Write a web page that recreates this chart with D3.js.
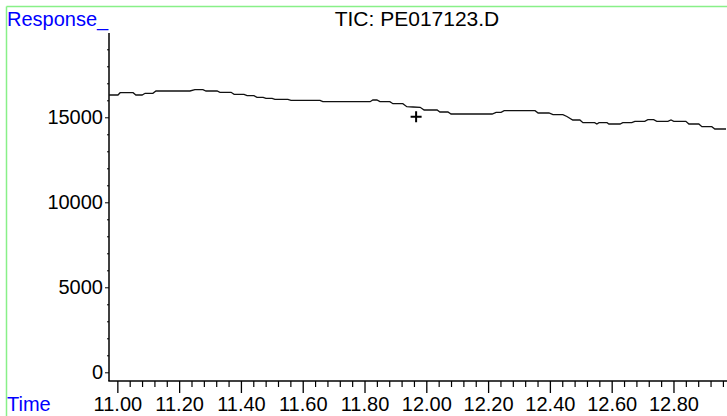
<!DOCTYPE html>
<html>
<head>
<meta charset="utf-8">
<script src="https://cdn.jsdelivr.net/npm/d3@7"></script>
<style>
html,body{margin:0;padding:0;background:#fff;}
svg{display:block;font-family:"Liberation Sans",Arial,sans-serif;}
</style>
</head>
<body>
<svg id="chart" width="727" height="416"></svg>
<script>
// ---- data ----
const titleText = "TIC: PE017123.D";
const yLabel = "Response_";
const xLabel = "Time";
const times = [10.973,11.002,11.009,11.051,11.060,11.080,11.090,11.115,11.125,11.235,11.251,11.277,11.287,11.323,11.332,11.368,11.378,11.410,11.420,11.442,11.452,11.472,11.481,11.501,11.510,11.552,11.562,11.656,11.665,11.818,11.827,11.840,11.850,11.882,11.892,11.924,11.937,11.957,11.980,11.993,12.035,12.044,12.070,12.080,12.213,12.226,12.242,12.252,12.352,12.362,12.397,12.410,12.442,12.455,12.474,12.497,12.507,12.545,12.552,12.559,12.585,12.591,12.627,12.636,12.665,12.675,12.707,12.717,12.736,12.746,12.782,12.792,12.801,12.840,12.850,12.882,12.892,12.924,12.934,12.970];
const responses = [16312,16312,16447,16447,16312,16312,16412,16412,16547,16547,16624,16624,16547,16547,16471,16471,16353,16353,16271,16271,16176,16176,16118,16118,16059,16059,16000,16000,15918,15918,16018,16018,15918,15918,15800,15800,15624,15606,15588,15429,15429,15312,15312,15194,15194,15294,15294,15388,15388,15253,15253,15153,15153,15047,14841,14841,14682,14682,14606,14682,14682,14606,14606,14682,14682,14765,14765,14859,14859,14765,14765,14841,14765,14765,14606,14606,14447,14447,14312,14312];
const markerTime = [11.967];
const markerResponse = [15035];
const yTickValues = [0,5000,10000,15000];
const yMinorValues = d3.range(0,20000,1000);
const xTickValues = [11.0,11.2,11.4,11.6,11.8,12.0,12.2,12.4,12.6,12.8];
const xMinorValues = d3.range(0,50).map(i => +(11 + i*0.04).toFixed(2));

// ---- layout ----
const svg = d3.select("#chart");
const x = d3.scaleLinear().domain([10.973, 12.970]).range([109, 726]);
const y = d3.scaleLinear().domain([0, 20000]).range([372.3, 32.3]);
const axisY0 = 381;

// green frame
svg.append("line").attr("x1",6.5).attr("x2",6.5).attr("y1",6.5).attr("y2",416)
  .attr("stroke","#88f088").attr("stroke-width",1.5);
svg.append("line").attr("x1",6.5).attr("x2",727).attr("y1",6.5).attr("y2",6.5)
  .attr("stroke","#88f088").attr("stroke-width",1.5);

// Y axis
const yAxis = d3.axisLeft(y).tickValues(yTickValues).tickSize(4).tickPadding(2)
  .tickFormat(d3.format("d"));
const gy = svg.append("g").attr("transform","translate(109,0)").call(yAxis);
gy.select(".domain").remove();
gy.selectAll(".tick line").attr("stroke","#000");
gy.selectAll(".tick text").attr("font-size",20).attr("fill","#000")
  .attr("font-family","'Liberation Sans',Arial,sans-serif");
const yMinor = d3.axisLeft(y).tickValues(yMinorValues.filter(v => !yTickValues.includes(v)))
  .tickSize(2).tickFormat("");
const gym = svg.append("g").attr("transform","translate(109,0)").call(yMinor);
gym.select(".domain").remove();
svg.append("line").attr("x1",109).attr("x2",109).attr("y1",33).attr("y2",axisY0)
  .attr("stroke","#000").attr("stroke-width",1.5);

// X axis
const xAxis = d3.axisBottom(x).tickValues(xTickValues).tickSize(12).tickPadding(4)
  .tickFormat(d3.format(".2f"));
const gx = svg.append("g").attr("transform",`translate(0,${axisY0})`).call(xAxis);
gx.select(".domain").remove();
gx.selectAll(".tick line").attr("stroke","#000").attr("stroke-width",1.3);
gx.selectAll(".tick text").attr("font-size",20).attr("fill","#000")
  .attr("font-family","'Liberation Sans',Arial,sans-serif");
const xMinor = d3.axisBottom(x).tickValues(xMinorValues.filter(v => !xTickValues.some(t => Math.abs(t-v)<1e-6)))
  .tickSize(6).tickFormat("");
const gxm = svg.append("g").attr("transform",`translate(0,${axisY0})`).call(xMinor);
gxm.select(".domain").remove();
gxm.selectAll(".tick line").attr("stroke","#000").attr("stroke-width",1.2);
svg.append("line").attr("x1",108.3).attr("x2",727).attr("y1",axisY0).attr("y2",axisY0)
  .attr("stroke","#000").attr("stroke-width",1.5);

// trace
const data = times.map((t,i) => ({t, v: responses[i]}));
const line = d3.line().x(d => x(d.t)).y(d => y(d.v));
svg.append("path").datum(data).attr("d",line).attr("fill","none")
  .attr("stroke","#111").attr("stroke-width",1.3);

// marker "+"
markerTime.forEach((t,i) => {
  const cx = x(t), cy = y(markerResponse[i]);
  svg.append("path").attr("d",`M${cx-5.5},${cy}H${cx+5.5}M${cx},${cy-5.5}V${cy+5.5}`)
    .attr("stroke","#000").attr("stroke-width",2);
});

// texts
svg.append("text").attr("x",7).attr("y",26).attr("font-size",20).attr("fill","#0000ff").text(yLabel);
svg.append("text").attr("x",7).attr("y",411).attr("font-size",20).attr("fill","#0000ff").text(xLabel);
svg.append("text").attr("x",417).attr("y",26).attr("text-anchor","middle").attr("font-size",21)
  .attr("fill","#000").text(titleText);
</script>
</body>
</html>
